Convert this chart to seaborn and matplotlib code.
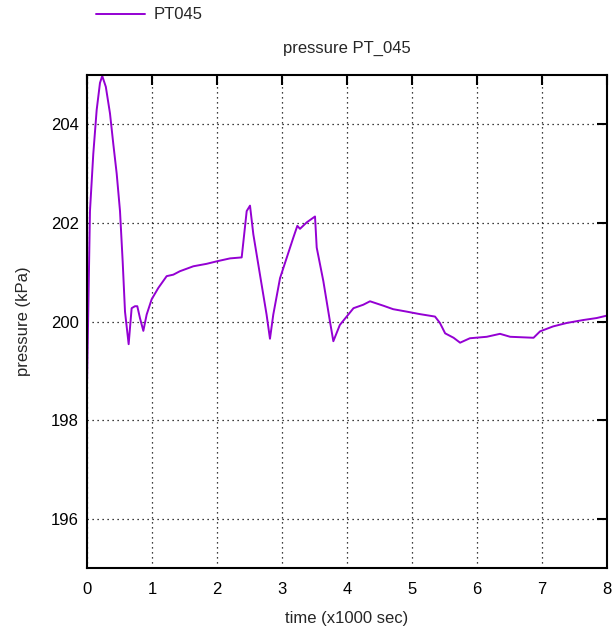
import matplotlib
matplotlib.use("Agg")
import matplotlib.pyplot as plt
import seaborn as sns
import pandas as pd
from matplotlib.lines import Line2D

time_k = [0.0, 0.046, 0.097, 0.149, 0.2, 0.235, 0.29, 0.354, 0.405, 0.457, 0.508, 0.549, 0.585,
          0.641, 0.687, 0.738, 0.774, 0.815, 0.867, 0.918, 0.995, 1.097, 1.226, 1.328, 1.43,
          1.636, 1.841, 1.995, 2.2, 2.38, 2.457, 2.508, 2.559, 2.66, 2.763, 2.815, 2.866,
          2.97, 3.072, 3.174, 3.236, 3.277, 3.38, 3.508, 3.534, 3.636, 3.738, 3.79, 3.89,
          3.995, 4.1, 4.25, 4.354, 4.56, 4.71, 4.92, 5.12, 5.354, 5.43, 5.51, 5.64, 5.74,
          5.89, 6.15, 6.354, 6.51, 6.87, 6.97, 7.17, 7.38, 7.635, 7.84, 8.0]
pressure = [198.67, 202.24, 203.4, 204.29, 204.84, 204.98, 204.76, 204.22, 203.6, 203.0, 202.24,
            201.22, 200.2, 199.54, 200.27, 200.31, 200.31, 200.07, 199.81, 200.14, 200.45,
            200.68, 200.92, 200.95, 201.02, 201.12, 201.17, 201.22, 201.28, 201.3, 202.24,
            202.35, 201.77, 200.96, 200.14, 199.65, 200.14, 200.88, 201.29, 201.7, 201.94,
            201.88, 202.01, 202.13, 201.5, 200.82, 200.0, 199.6, 199.93, 200.1, 200.27,
            200.34, 200.41, 200.32, 200.25, 200.2, 200.15, 200.1, 199.97, 199.76, 199.67,
            199.57, 199.66, 199.69, 199.75, 199.69, 199.67, 199.8, 199.9, 199.97, 200.03,
            200.07, 200.12]
series_name = "PT045"
x_ticks = [0, 1, 2, 3, 4, 5, 6, 7, 8]
y_ticks = [196, 198, 200, 202, 204]

df = pd.DataFrame({"time": time_k, "pressure": pressure, "series": series_name})

sns.set_style("white")
plt.rcParams['font.family'] = ['Liberation Sans', 'DejaVu Sans']
plt.rcParams['font.size'] = 12

fig = plt.figure(figsize=(6.16, 6.35), dpi=100)
ax = fig.add_axes([0.1412, 0.1055, 0.8442, 0.7764])

sns.lineplot(data=df, x="time", y="pressure", hue="series", palette=["#9400D3"],
             linewidth=1.4, ax=ax, legend=False, estimator=None, sort=False)

ax.set_xlim(0, 8)
ax.set_ylim(195, 205)
ax.set_xticks(x_ticks)
ax.set_yticks(y_ticks)
ax.grid(True, color="black", linestyle=(0, (1, 3)), linewidth=0.9)
ax.tick_params(direction="in", length=7, width=1.5, top=True, right=True,
               labelsize=12, colors="black")
ax.tick_params(axis="y", pad=6)
ax.tick_params(axis="x", pad=10)
for s in ax.spines.values():
    s.set_linewidth(1.5)
    s.set_color("black")

ax.set_xlabel("time (x1000 sec)", fontsize=12, labelpad=10)
ax.set_ylabel("pressure (kPa)", fontsize=12, labelpad=14)
ax.set_title("pressure PT_045", fontsize=12, pad=16)

h = Line2D([], [], color="#9400D3", linewidth=1.4)
fig.legend([h], [series_name], loc="upper left", bbox_to_anchor=(0.132, 1.012),
           frameon=False, handlelength=2.9, handletextpad=0.55, fontsize=12)

fig.savefig("out.png", dpi=100)
